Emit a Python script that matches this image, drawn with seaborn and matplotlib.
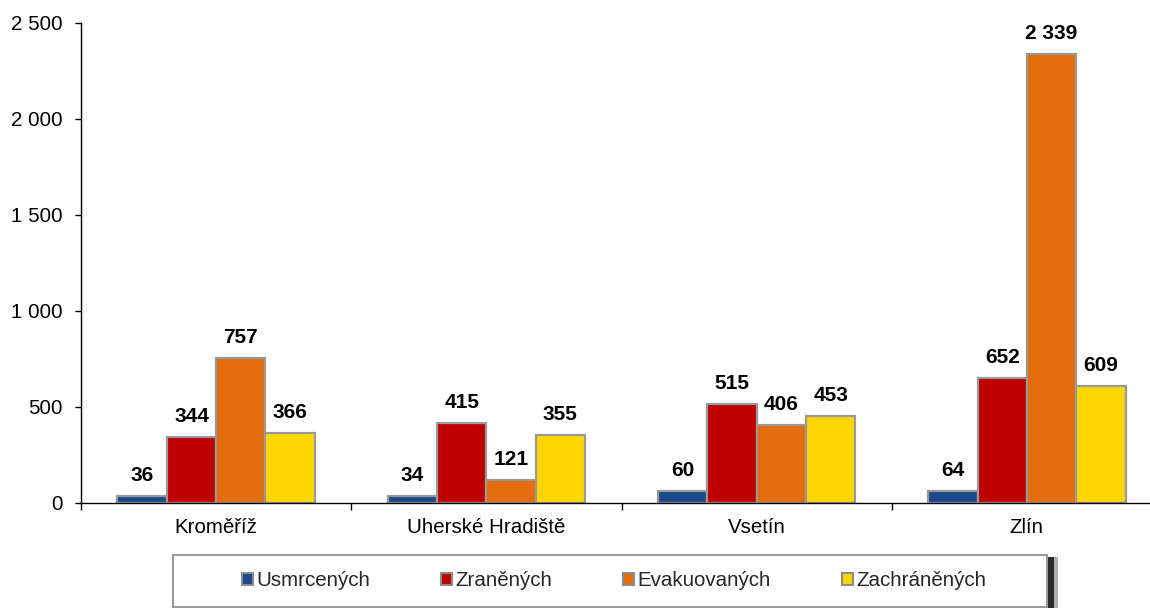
import pandas as pd
import matplotlib.pyplot as plt
import seaborn as sns
from matplotlib.patches import Rectangle
from matplotlib.ticker import FuncFormatter

# Data
okresy = ["Kroměříž", "Uherské Hradiště", "Vsetín", "Zlín"]
skupiny = ["Usmrcených", "Zraněných", "Evakuovaných", "Zachráněných"]
usmrcenych = [36, 34, 60, 64]
zranenych = [344, 415, 515, 652]
evakuovanych = [757, 121, 406, 2339]
zachranenych = [366, 355, 453, 609]
barvy = ["#1B4A8A", "#C00000", "#E46C0A", "#FFD700"]
y_ticks = [0, 500, 1000, 1500, 2000, 2500]

rows = []
for skupina, hodnoty in zip(skupiny, [usmrcenych, zranenych, evakuovanych, zachranenych]):
    for okres, h in zip(okresy, hodnoty):
        rows.append({"okres": okres, "skupina": skupina, "pocet": h})
df = pd.DataFrame(rows)

sns.set_theme(style="white")
plt.rcParams["font.family"] = ["Liberation Sans", "DejaVu Sans"]

def mezery(v, pos=None):
    return f"{v:,.0f}".replace(",", " ")

fig = plt.figure(figsize=(11.5, 6.08), dpi=100)
ax = fig.add_axes([81 / 1150, 105 / 608, 1081 / 1150, 480 / 608])

sns.barplot(
    data=df, x="okres", y="pocet", hue="skupina", order=okresy, hue_order=skupiny,
    palette=barvy, width=0.73, edgecolor="#999999", linewidth=1.6,
    saturation=1, legend=False, ax=ax
)

# Popisky nad sloupci
for cont in ax.containers:
    ax.bar_label(cont, labels=[mezery(b.get_height()) for b in cont],
                 padding=8, fontsize=15, fontweight="bold", color="black")

ax.set_xlim(-0.5, 3.5)
ax.set_ylim(0, 2500)
ax.set_yticks(y_ticks)
ax.yaxis.set_major_formatter(FuncFormatter(mezery))
ax.set_xlabel("")
ax.set_ylabel("")

# Osy
sns.despine(ax=ax, top=True, right=True)
for s in ["left", "bottom"]:
    ax.spines[s].set_color("black")
    ax.spines[s].set_linewidth(1.0)
ax.tick_params(axis="y", left=True, length=4, width=1, color="black",
               labelsize=14.8, pad=9, labelcolor="black")
ax.tick_params(axis="x", which="major", bottom=False, length=0,
               labelsize=14.8, pad=11, labelcolor="black")
ax.set_xticks([-0.5, 0.5, 1.5, 2.5], minor=True)
ax.tick_params(axis="x", which="minor", bottom=True, length=5, width=1,
               color="black", direction="out")

# Legenda s rámečkem a stínem
handles = [Rectangle((0, 0), 1, 1, facecolor=c, edgecolor="#8c8c8c", linewidth=1.5)
           for c in barvy]
fig.legend(handles, skupiny, loc="center", bbox_to_anchor=(614 / 1150, 1 - 581 / 608),
           ncol=4, frameon=False, fontsize=14.8, handlelength=0.55, handleheight=0.55,
           handletextpad=0.15, columnspacing=3.45)
fig.patches.append(Rectangle((1048 / 1150, 0), 6 / 1150, 51 / 608,
                             transform=fig.transFigure, facecolor="#2a2a2a",
                             edgecolor="none", zorder=0))
fig.patches.append(Rectangle((1054 / 1150, 0), 4 / 1150, 51 / 608,
                             transform=fig.transFigure, facecolor="#b0b0b0",
                             edgecolor="none", zorder=0))
fig.patches.append(Rectangle((173 / 1150, 1 / 608), 874 / 1150, 52 / 608,
                             transform=fig.transFigure, facecolor="white",
                             edgecolor="#9a9a9a", linewidth=1.5, zorder=1))

fig.savefig("out.png", dpi=100)
